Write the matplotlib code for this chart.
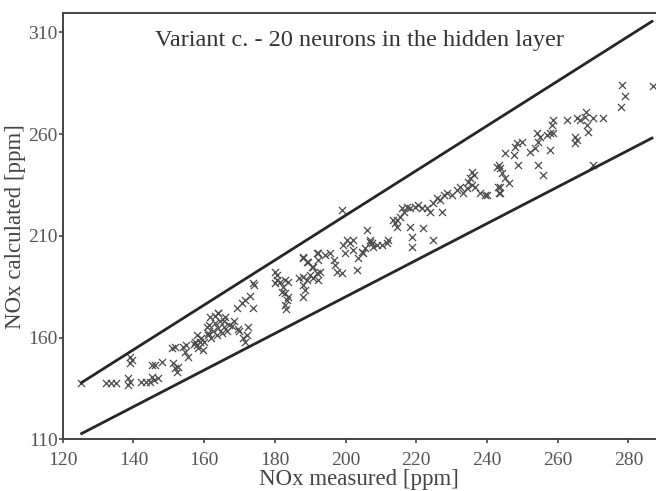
import matplotlib.pyplot as plt

# measured vs calculated NOx [ppm]
nox_measured = [
    125.2, 132.3, 133.7, 135.1, 138.5, 139.0, 138.5, 139.0, 139.5, 139.0,
    142.2, 143.6, 144.7, 145.2, 145.7, 147.0, 145.2, 146.1, 148.0, 150.8,
    151.8, 151.3, 151.8, 152.2, 152.7, 154.1, 155.0, 154.6, 155.5, 157.5,
    157.9, 158.8, 158.4, 159.8, 160.7, 161.2, 157.0, 158.0, 159.0, 160.0,
    161.0, 161.5, 162.0, 162.5, 163.0, 163.5, 164.0, 164.5, 165.0, 165.5,
    166.0, 166.5, 167.0, 168.0, 168.5, 169.5, 170.0, 171.0, 171.5, 172.0,
    172.5, 163.0, 164.0, 165.5, 161.7, 164.0, 169.2, 170.6, 171.6, 173.0,
    174.1, 173.9, 173.9, 180.0, 180.5, 180.0, 181.5, 182.9, 183.8, 182.4,
    181.9, 182.9, 183.8, 183.4, 182.9, 183.2, 180.5, 186.7, 188.1, 189.0,
    190.0, 190.9, 191.9, 192.3, 188.1, 188.5, 188.1, 188.1, 189.5, 190.4,
    191.9, 192.3, 188.0, 189.0, 190.9, 192.3, 192.8, 194.2, 195.6, 196.6,
    197.0, 197.5, 198.9, 199.4, 199.9, 200.3, 201.3, 202.2, 202.2, 203.2,
    203.6, 204.6, 205.0, 205.5, 206.9, 207.9, 198.9, 206.0, 206.9, 207.4,
    208.8, 210.2, 211.7, 212.1, 214.0, 214.5, 215.4, 215.9, 216.4, 217.3,
    218.2, 219.7, 220.6, 221.6, 223.0, 223.9, 227.2, 224.8, 225.8, 226.7,
    227.7, 228.6, 230.0, 231.5, 232.4, 233.3, 234.3, 234.7, 235.2, 235.7,
    235.7, 236.2, 236.6, 238.0, 239.9, 242.8, 243.2, 243.5, 218.2, 218.7,
    218.7, 222.0, 224.8, 214.5, 213.5, 239.5, 243.3, 243.7, 244.2, 245.1,
    246.1, 243.7, 243.7, 245.1, 247.5, 247.9, 248.4, 249.8, 248.9, 252.2,
    253.6, 254.5, 255.0, 254.1, 256.9, 257.8, 258.8, 258.3, 258.8, 257.8,
    254.5, 255.9, 262.7, 264.9, 265.4, 264.9, 265.4, 266.4, 267.8, 268.0,
    268.2, 268.7, 270.1, 272.9, 270.1, 277.8, 278.1, 279.1, 286.9,
]
nox_calculated = [
    137.5, 137.9, 137.9, 137.9, 140.0, 138.0, 136.7, 150.6, 149.0, 147.5,
    138.0, 138.0, 138.0, 140.8, 139.0, 140.3, 146.5, 146.5, 148.0, 154.7,
    155.5, 147.3, 144.9, 143.2, 145.7, 155.5, 156.3, 153.0, 150.6, 158.0,
    156.3, 158.0, 154.7, 153.9, 165.3, 162.1, 157.0, 161.0, 160.0, 158.0,
    161.0, 166.0, 160.0, 163.0, 167.0, 161.0, 164.5, 168.0, 162.0, 165.0,
    170.0, 163.0, 166.0, 165.5, 168.0, 164.0, 163.0, 160.0, 158.0, 161.0,
    165.0, 170.5, 172.0, 168.0, 170.3, 172.2, 174.4, 176.8, 178.5, 180.4,
    185.8, 174.4, 186.7, 192.4, 190.7, 186.7, 187.4, 188.3, 187.4, 185.0,
    182.5, 181.7, 180.0, 178.5, 176.0, 173.9, 188.3, 189.1, 189.9, 188.3,
    190.7, 189.1, 191.6, 188.3, 185.8, 183.4, 180.0, 198.9, 197.3, 194.8,
    201.4, 198.0, 199.7, 197.3, 194.8, 201.4, 192.4, 200.6, 201.4, 198.1,
    195.6, 192.4, 191.6, 205.5, 201.4, 207.9, 206.3, 207.9, 203.0, 193.2,
    198.9, 202.2, 201.4, 203.9, 207.1, 204.6, 222.7, 212.8, 207.9, 206.3,
    205.5, 205.5, 206.3, 207.9, 216.1, 217.8, 219.4, 223.5, 221.8, 224.3,
    223.5, 224.3, 225.1, 223.5, 223.5, 221.8, 221.8, 226.0, 228.4, 227.6,
    230.0, 230.9, 230.0, 232.5, 234.1, 230.9, 233.3, 236.6, 238.3, 241.5,
    235.0, 239.9, 234.1, 230.9, 230.0, 244.0, 234.1, 230.9, 214.5, 209.6,
    204.6, 213.7, 207.9, 214.5, 217.8, 230.0, 244.8, 243.2, 240.7, 238.3,
    235.8, 234.1, 230.9, 250.5, 249.7, 253.8, 255.5, 256.3, 244.8, 251.3,
    253.0, 256.3, 258.7, 260.4, 259.6, 260.4, 260.4, 264.5, 266.9, 252.2,
    244.8, 239.9, 266.9, 258.7, 257.1, 255.5, 267.7, 266.9, 268.5, 271.0,
    264.5, 261.2, 267.7, 267.7, 244.8, 273.4, 284.1, 278.7, 283.6,
]

# +/-10 % band
band_x = [125, 287]
band_hi = [x * 1.1 for x in band_x]
band_lo = [x * 0.9 for x in band_x]

plt.rcParams['font.family'] = ['Liberation Serif', 'DejaVu Serif']

fig = plt.figure(figsize=(6.56, 4.91), dpi=100)
ax = fig.add_axes([0.0956, 0.1053, 0.9044, 0.8676])

ax.plot(band_x, band_hi, color='#262626', lw=2.0, solid_capstyle='butt')
ax.plot(band_x, band_lo, color='#262626', lw=2.0, solid_capstyle='butt')
ax.scatter(nox_measured, nox_calculated, marker='x', s=26, color='#4a4a4a',
           linewidths=0.9)

ax.set_xlim(120, 287.8)
ax.set_ylim(110, 319.3)
ax.set_xticks(range(120, 281, 20))
ax.set_yticks(range(110, 311, 50))

ax.spines['right'].set_visible(False)
for side in ['left', 'bottom', 'top']:
    ax.spines[side].set_color('#444444')
    ax.spines[side].set_linewidth(1.4)
ax.tick_params(length=3, width=1.2, color='#444444', labelcolor='#555555',
               labelsize=14)
ax.tick_params(axis='x', pad=6)
ax.tick_params(axis='y', pad=0.5)

ax.set_xlabel('NOx measured [ppm]', fontsize=16.5, color='#444444', labelpad=0)
ax.set_ylabel('NOx calculated [ppm]', fontsize=16.5, color='#444444', labelpad=2)
ax.text(0.5, 0.937, 'Variant c. - 20 neurons in the hidden layer',
        transform=ax.transAxes, ha='center', va='center', fontsize=17.5,
        color='#333333')

fig.savefig('out.png', dpi=100)
